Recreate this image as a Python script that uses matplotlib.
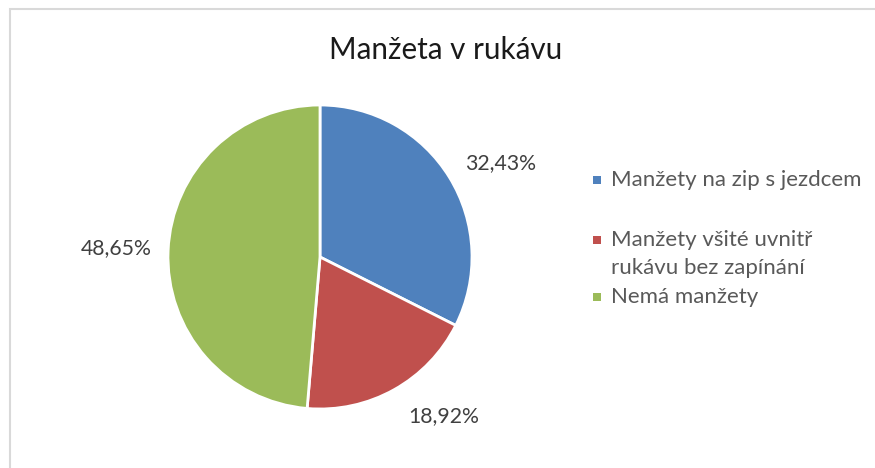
import numpy as np
import matplotlib.pyplot as plt
from matplotlib.patches import Rectangle

plt.rcParams['font.family'] = ['Lato', 'DejaVu Sans']

labels = ["Manžety na zip s jezdcem",
          "Manžety všité uvnitř\nrukávu bez zapínání",
          "Nemá manžety"]
values = [32.43, 18.92, 48.65]
colors = ["#4F81BD", "#C0504D", "#9BBB59"]

fig = plt.figure(figsize=(8.75, 4.68), dpi=100)
W, H = 875, 468

# chart border (light gray, right/bottom run off the image)
fig.add_artist(Rectangle((10 / W, -0.05), 1.0, 1 - 9 / H + 0.05,
                         transform=fig.transFigure, fill=False,
                         edgecolor="#D9D9D9", linewidth=1.5))

# pie axes: center (320, 257) px, radius 152 px
r = 152
ax = fig.add_axes([(320 - r) / W, 1 - (257 + r) / H, 2 * r / W, 2 * r / H])
wedges, texts, autotexts = ax.pie(
    values, colors=colors, startangle=90, counterclock=False,
    autopct=lambda p: f"{p:.2f}%".replace(".", ","), pctdistance=1.34,
    wedgeprops=dict(edgecolor="white", linewidth=2),
    textprops=dict(fontsize=15.3, color="#404040"))
ax.set_xlim(-1, 1)
ax.set_ylim(-1, 1)
ax.set_aspect("equal")
# Excel nudges the outside-end labels a little
x, y = autotexts[0].get_position()
autotexts[0].set_position((x + 0.05, y - 0.085))
x, y = autotexts[1].get_position()
autotexts[1].set_position((x + 0.16, y + 0.12))

fig.text(446 / W, 1 - 50 / H, "Manžeta v rukávu", fontsize=21.3,
         color="#1a1a1a", ha="center", va="center")

# legend
rows = [180, 254, 297]
for lab, c, yy in zip(labels, colors, rows):
    first = 240 if "\n" in lab else yy
    fig.add_artist(Rectangle((593 / W, 1 - (first + 4) / H), 8 / W, 8 / H,
                             transform=fig.transFigure, facecolor=c,
                             edgecolor="none"))
    fig.text(611 / W, 1 - yy / H, lab, fontsize=16, color="#595959",
             ha="left", va="center", linespacing=1.45)

fig.savefig("out.png", dpi=100)
